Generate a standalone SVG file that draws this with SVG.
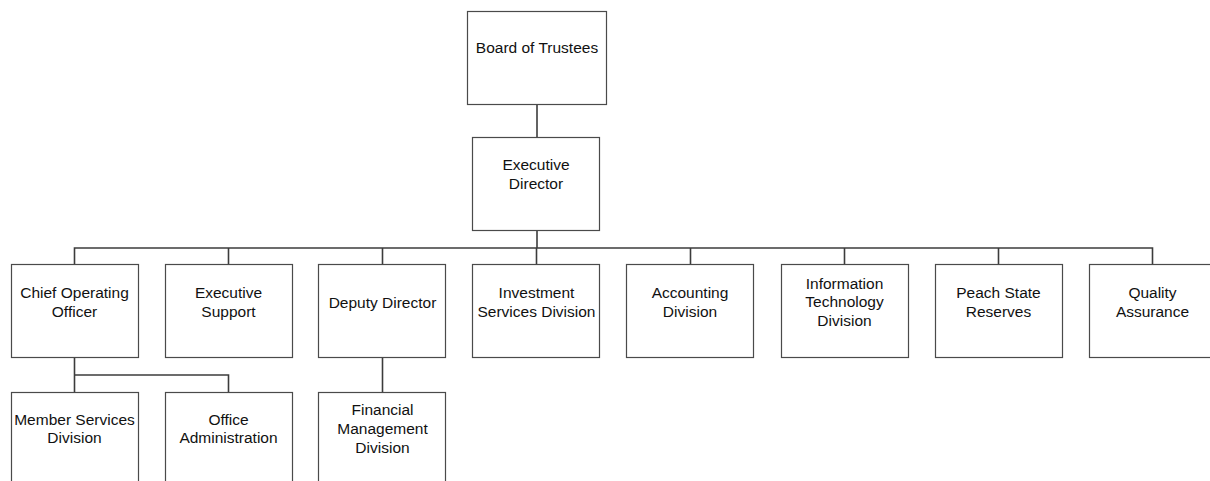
<svg xmlns="http://www.w3.org/2000/svg" width="1210" height="481" viewBox="0 0 1210 481">
<style>
.box{fill:#fff;stroke:#4a4a4a;stroke-width:1.2}
.t{font-family:"Liberation Sans",Arial,sans-serif;font-size:15.5px;fill:#111;text-anchor:middle}
.c{fill:none;stroke:#3c3c3c;stroke-width:1.6}
</style>
<rect width="1210" height="481" fill="#fff"/>
<g id="connectors">
<path class="c" d="M537,104 V137"/>
<path class="c" d="M537,230 V248"/>
<path class="c" d="M74.5,264 V248 H1152.5 V264"/>
<path class="c" d="M228.5,248 V264 M382.5,248 V264 M536.5,248 V264 M690.5,248 V264 M844.5,248 V264 M998.5,248 V264"/>
<path class="c" d="M74.5,358 V392 M74.5,375 H228.5 V392"/>
<path class="c" d="M382.5,358 V392"/>
</g>
<g id="board">
<rect class="box" x="467.5" y="11.5" width="139" height="93"/>
<text class="t" x="537" y="53">Board of Trustees</text>
</g>
<g id="exec">
<rect class="box" x="472.5" y="137.5" width="127" height="93"/>
<text class="t" x="536" y="170">Executive</text>
<text class="t" x="536" y="189">Director</text>
</g>
<g id="coo">
<rect class="box" x="11.5" y="264.5" width="127" height="93"/>
<text class="t" x="74.5" y="298">Chief Operating</text>
<text class="t" x="74.5" y="316.5">Officer</text>
</g>
<g id="execsupport">
<rect class="box" x="165.5" y="264.5" width="127" height="93"/>
<text class="t" x="228.5" y="298">Executive</text>
<text class="t" x="228.5" y="316.5">Support</text>
</g>
<g id="deputy">
<rect class="box" x="318.5" y="264.5" width="127" height="93"/>
<text class="t" x="382.5" y="307.5">Deputy Director</text>
</g>
<g id="investment">
<rect class="box" x="472.5" y="264.5" width="127" height="93"/>
<text class="t" x="536.5" y="298">Investment</text>
<text class="t" x="536.5" y="316.5">Services Division</text>
</g>
<g id="accounting">
<rect class="box" x="626.5" y="264.5" width="127" height="93"/>
<text class="t" x="690" y="298">Accounting</text>
<text class="t" x="690" y="316.5">Division</text>
</g>
<g id="it">
<rect class="box" x="781.5" y="264.5" width="127" height="93"/>
<text class="t" x="844.5" y="288.5">Information</text>
<text class="t" x="844.5" y="307">Technology</text>
<text class="t" x="844.5" y="325.5">Division</text>
</g>
<g id="peach">
<rect class="box" x="935.5" y="264.5" width="127" height="93"/>
<text class="t" x="998.5" y="298">Peach State</text>
<text class="t" x="998.5" y="316.5">Reserves</text>
</g>
<g id="quality">
<rect class="box" x="1089.5" y="264.5" width="127" height="93"/>
<text class="t" x="1152.5" y="298">Quality</text>
<text class="t" x="1152.5" y="316.5">Assurance</text>
</g>
<g id="member">
<rect class="box" x="11.5" y="392.5" width="127" height="93"/>
<text class="t" x="74.5" y="424.5">Member Services</text>
<text class="t" x="74.5" y="443">Division</text>
</g>
<g id="officeadmin">
<rect class="box" x="165.5" y="392.5" width="127" height="93"/>
<text class="t" x="228.5" y="424.5">Office</text>
<text class="t" x="228.5" y="443">Administration</text>
</g>
<g id="financial">
<rect class="box" x="318.5" y="392.5" width="127" height="93"/>
<text class="t" x="382.5" y="414.5">Financial</text>
<text class="t" x="382.5" y="433.5">Management</text>
<text class="t" x="382.5" y="452.5">Division</text>
</g>
</svg>
